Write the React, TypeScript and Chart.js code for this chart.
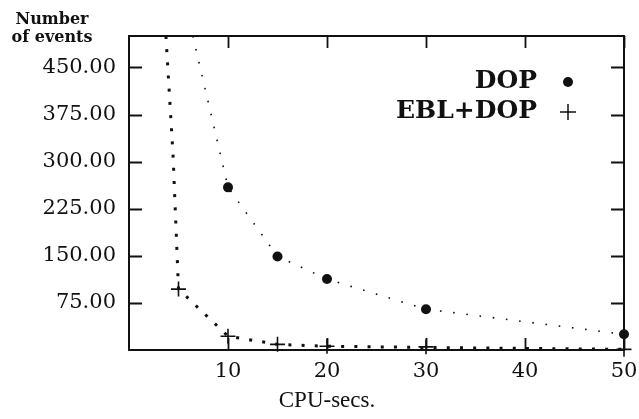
import React, { useEffect, useRef } from 'react';
import { Chart, registerables } from 'chart.js';

Chart.register(...registerables);

// ---- data ----
const dopCpu = [10, 15, 20, 30, 50];
const dopEvents = [259, 149, 113, 65, 25];
const dopCurveCpu = [6.45, 10, 15, 20, 30, 50];
const dopCurveEvents = [500, 259, 149, 113, 65, 25];

const eblCpu = [5, 10, 15, 20, 30, 50];
const eblEvents = [97, 22, 9, 6, 5, 1];
const eblCurveCpu = [3.73, 4.45, 5, 10, 15, 20, 30, 50];
const eblCurveEvents = [500, 310, 97, 22, 9, 6, 4, 1];

const xTickValues = [10, 20, 30, 40, 50];
const yTickValues = [75, 150, 225, 300, 375, 450];

const legendLabels = ['DOP', 'EBL+DOP'];
const yAxisTitle = ['Number', 'of events'];
const xAxisTitle = 'CPU-secs.';

const INK = '#111';

const pts = (xs: number[], ys: number[]) => xs.map((x, i) => ({ x, y: ys[i] }));

const framePlugin = {
  id: 'frameTicks',
  beforeDatasetsDraw(chart: any) {
    const { ctx, chartArea, scales } = chart;
    const xs = scales.x;
    const ys = scales.y;
    ctx.save();
    ctx.strokeStyle = INK;
    ctx.lineWidth = 1.8;
    ctx.beginPath();
    xTickValues.forEach((v) => {
      const px = Math.round(xs.getPixelForValue(v)) + 0.5;
      ctx.moveTo(px, chartArea.bottom);
      ctx.lineTo(px, chartArea.bottom - 12);
      ctx.moveTo(px, chartArea.top);
      ctx.lineTo(px, chartArea.top + 12);
    });
    yTickValues.forEach((v) => {
      const py = Math.round(ys.getPixelForValue(v)) + 0.5;
      ctx.moveTo(chartArea.left, py);
      ctx.lineTo(chartArea.left + 13, py);
      ctx.moveTo(chartArea.right, py);
      ctx.lineTo(chartArea.right - 13, py);
    });
    ctx.stroke();
    ctx.restore();
  },
  afterDraw(chart: any) {
    const { ctx, chartArea } = chart;
    ctx.save();
    ctx.fillStyle = INK;
    ctx.strokeStyle = INK;

    // y axis title (top-left)
    ctx.font = 'bold 16px "DejaVu Serif"';
    ctx.textAlign = 'center';
    ctx.textBaseline = 'middle';
    ctx.fillText(yAxisTitle[0], chartArea.left - 77, chartArea.top - 16);
    ctx.fillText(yAxisTitle[1], chartArea.left - 77, chartArea.top + 2);

    // x axis title
    ctx.font = '23px "Liberation Serif"';
    ctx.fillText(xAxisTitle, chartArea.left + 198, chartArea.bottom + 51);

    // legend
    ctx.font = 'bold 25px "DejaVu Serif"';
    ctx.textAlign = 'right';
    const lx = chartArea.right - 87;
    const sx = chartArea.right - 56;
    const y1 = chartArea.top + 45;
    const y2 = chartArea.top + 75;
    ctx.fillText(legendLabels[0], lx, y1);
    ctx.fillText(legendLabels[1], lx, y2);
    ctx.beginPath();
    ctx.arc(sx, y1 + 1, 5, 0, Math.PI * 2);
    ctx.fill();
    ctx.lineWidth = 1.5;
    ctx.beginPath();
    ctx.moveTo(sx - 8, y2 + 1);
    ctx.lineTo(sx + 8, y2 + 1);
    ctx.moveTo(sx, y2 - 7);
    ctx.lineTo(sx, y2 + 9);
    ctx.stroke();
    ctx.restore();
  },
};

export default function App() {
  const ref = useRef<HTMLCanvasElement | null>(null);

  useEffect(() => {
    if (!ref.current) return;
    const axisGrid = { display: true, drawOnChartArea: false, drawTicks: false };
    const axisBorder = { display: true, color: INK, width: 2 };
    const chart = new Chart(ref.current, {
      type: 'scatter',
      data: {
        datasets: [
          {
            label: 'DOP fit',
            data: pts(dopCurveCpu, dopCurveEvents),
            showLine: true,
            borderColor: INK,
            borderWidth: 1.6,
            borderDash: [1.6, 11.7],
            borderCapStyle: 'butt',
            pointRadius: 0,
            tension: 0,
          },
          {
            label: 'EBL+DOP fit',
            data: pts(eblCurveCpu, eblCurveEvents),
            showLine: true,
            borderColor: INK,
            borderWidth: 3,
            borderDash: [3, 10.2],
            borderCapStyle: 'butt',
            pointRadius: 0,
            tension: 0,
          },
          {
            label: 'DOP',
            data: pts(dopCpu, dopEvents),
            showLine: false,
            pointStyle: 'circle',
            pointRadius: 5,
            backgroundColor: INK,
            borderColor: INK,
            borderWidth: 0,
            clip: false,
          },
          {
            label: 'EBL+DOP',
            data: pts(eblCpu, eblEvents),
            showLine: false,
            pointStyle: 'cross',
            pointRadius: 7.5,
            borderColor: INK,
            borderWidth: 1.6,
            clip: false,
          },
        ],
      } as any,
      options: {
        animation: false,
        responsive: true,
        maintainAspectRatio: false,
        layout: { padding: { top: 36, right: 15, left: 0, bottom: 0 } },
        plugins: {
          legend: { display: false },
          tooltip: { enabled: false },
        },
        scales: {
          x: {
            type: 'linear',
            position: 'bottom',
            min: 0,
            max: 50,
            afterBuildTicks: (s: any) => {
              s.ticks = xTickValues.map((v) => ({ value: v }));
            },
            afterFit: (s: any) => {
              s.height = 69;
              s.paddingLeft = 0;
              s.paddingRight = 0;
            },
            grid: axisGrid,
            border: axisBorder,
            ticks: {
              font: { family: 'DejaVu Serif', size: 21 },
              color: INK,
              padding: 9,
              maxRotation: 0,
              autoSkip: false,
              callback: (v: any) => String(v),
            },
          },
          x2: {
            type: 'linear',
            position: 'top',
            min: 0,
            max: 50,
            afterFit: (s: any) => {
              s.height = 0;
              s.paddingLeft = 0;
              s.paddingRight = 0;
            },
            grid: axisGrid,
            border: axisBorder,
            ticks: { display: false },
          },
          y: {
            type: 'linear',
            position: 'left',
            min: 0,
            max: 500,
            afterBuildTicks: (s: any) => {
              s.ticks = yTickValues.map((v) => ({ value: v }));
            },
            afterFit: (s: any) => {
              s.width = 129;
              s.paddingTop = 0;
              s.paddingBottom = 0;
            },
            grid: axisGrid,
            border: axisBorder,
            ticks: {
              font: { family: 'DejaVu Serif', size: 21 },
              color: INK,
              padding: 13,
              autoSkip: false,
              callback: (v: any) => Number(v).toFixed(2),
            },
          },
          y2: {
            type: 'linear',
            position: 'right',
            min: 0,
            max: 500,
            afterFit: (s: any) => {
              s.width = 0;
              s.paddingTop = 0;
              s.paddingBottom = 0;
            },
            grid: axisGrid,
            border: axisBorder,
            ticks: { display: false },
          },
        },
      } as any,
      plugins: [framePlugin],
    });
    return () => chart.destroy();
  }, []);

  return (
    <div style={{ position: 'fixed', left: 0, top: 0, width: 639, height: 419, background: '#fff' }}>
      <canvas ref={ref} />
    </div>
  );
}
